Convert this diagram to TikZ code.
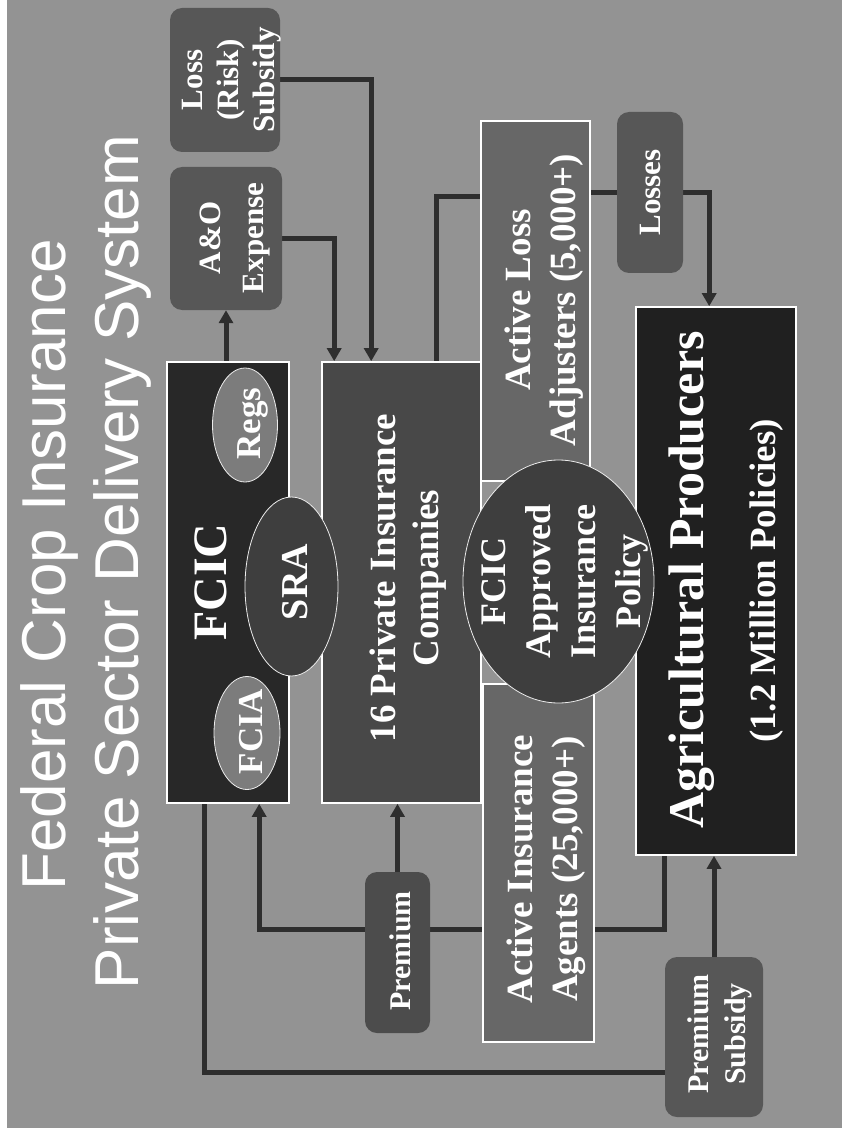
\documentclass[tikz,border=0pt]{standalone}
\usepackage{fontspec}
\setmainfont{Liberation Serif}
\newfontfamily\titlefont{Liberation Sans}
\usepackage{graphicx}
\usetikzlibrary{arrows.meta,calc,shapes.geometric}
\pgfdeclarelayer{bgbg}\pgfdeclarelayer{bgline}
\pgfsetlayers{bgbg,bgline,main}
\newcommand\rtxt[1]{\rotatebox{90}{\begin{tabular}{@{}c@{}}#1\end{tabular}}}
\newcommand\fsz[2]{\fontsize{#1}{#2}\selectfont\bfseries}
\definecolor{bgc}{HTML}{939393}
\definecolor{fcicc}{HTML}{282828}
\definecolor{picc}{HTML}{484848}
\definecolor{agentc}{HTML}{676767}
\definecolor{agc}{HTML}{202020}
\definecolor{regc}{HTML}{7C7C7C}
\definecolor{srac}{HTML}{3E3E3E}
\definecolor{rboxc}{HTML}{575757}
\definecolor{premc}{HTML}{4C4C4C}
\definecolor{connc}{HTML}{2E2E2E}
\begin{document}
\begin{tikzpicture}[x=1pt,y=-1pt,
  box/.style={draw=white, line width=1.6pt, inner sep=0pt, rectangle},
  rbox/.style={rectangle, rounded corners=12pt, fill=rboxc, inner sep=0pt},
  oval/.style={ellipse, draw=white!85!gray, line width=0.8pt, inner sep=0pt},
  lbl/.style={text=white, inner sep=0pt},
  conn/.style={draw=connc, line width=5pt},
  arr/.style={conn, -{Triangle[length=13pt,width=14pt]}}]
\begin{pgfonlayer}{bgbg}
\fill[white] (0,0) rectangle (842,1131);
\fill[bgc] (7,0) rectangle (842,1128);
\end{pgfonlayer}
\useasboundingbox (0,0) rectangle (842,1131);
% boxes
\node[rbox, minimum width=110pt, minimum height=144pt] (loss) at (225,80) {};
\node[rbox, minimum width=112pt, minimum height=143pt] (ao) at (226,238.5) {};
\node[rbox, minimum width=66pt, minimum height=161pt] (losses) at (650,192.5) {};
\node[rbox, fill=premc, minimum width=65pt, minimum height=161pt] (premium) at (397.5,952.5) {};
\node[rbox, minimum width=98pt, minimum height=160pt] (psub) at (714,1037) {};
\node[box, fill=fcicc, minimum width=122pt, minimum height=441pt] (fcic) at (228,582.5) {};
\node[box, fill=picc, minimum width=159pt, minimum height=441pt] (pic) at (401.5,582.5) {};
\node[box, fill=agentc, minimum width=109pt, minimum height=360pt] (adj) at (535.5,301) {};
\node[box, fill=agentc, minimum width=111pt, minimum height=358pt] (agents) at (538.5,863) {};
\node[box, fill=agc, minimum width=160pt, minimum height=548pt] (ag) at (716,581) {};
\node[oval, fill=regc, minimum width=65pt, minimum height=114pt] (regs) at (245,425) {};
\node[oval, fill=regc, minimum width=66pt, minimum height=113pt] (fcia) at (247,733) {};
\node[oval, fill=srac, minimum width=93pt, minimum height=179pt] (sra) at (291.5,586.5) {};
\node[oval, fill=srac, minimum width=191pt, minimum height=243pt] (policy) at (558.5,581.5) {};
% labels
\node[lbl, font={\titlefont\fontsize{62}{74}\selectfont}] (title1) at (50.2,565) {\rtxt{Federal Crop Insurance}};
\node[lbl, font={\titlefont\fontsize{62}{74}\selectfont}] (title2) at (123.2,562) {\rtxt{Private Sector Delivery System}};
\node[lbl, font={\fsz{31}{36}}] (losst) at (230.8,80) {\rtxt{Loss\\(Risk)\\Subsidy}};
\node[lbl, font={\fsz{31}{43}}] (aot) at (232.9,238) {\rtxt{A\&O\\Expense}};
\node[lbl, font={\fsz{31}{36}}] (lossest) at (652.8,192.5) {\rtxt{Losses}};
\node[lbl, font={\fsz{30}{36}}] (premiumt) at (402.8,951) {\rtxt{Premium}};
\node[lbl, font={\fsz{30}{37}}] (psubt) at (719.1,1034) {\rtxt{Premium\\Subsidy}};
\node[lbl, font={\fsz{48}{58}}] (fcict) at (214.4,582) {\rtxt{FCIC}};
\node[lbl, font={\fsz{35}{42}}] (regst) at (251.6,423.5) {\rtxt{Regs}};
\node[lbl, font={\fsz{35}{42}}] (fciat) at (253.6,731.5) {\rtxt{FCIA}};
\node[lbl, font={\fsz{38}{46}}] (srat) at (297.8,582) {\rtxt{SRA}};
\node[lbl, font={\fsz{37}{43}}] (pict) at (408,578) {\rtxt{16 Private Insurance\\Companies}};
\node[lbl, font={\fsz{37}{45}}] (adjt) at (543.5,300) {\rtxt{Active Loss\\Adjusters (5,000+)}};
\node[lbl, font={\fsz{37}{45}}] (agentst) at (546,869) {\rtxt{Active Insurance\\Agents (25,000+)}};
\node[lbl, font={\fsz{50}{60}}] (agt) at (691,580) {\rtxt{Agricultural Producers}};
\node[lbl, font={\fsz{37}{44}}] (agt2) at (766.2,581) {\rtxt{(1.2 Million Policies)}};
\node[lbl, font={\fsz{36}{45}}] (policyt) at (563.5,581.5) {\rtxt{FCIC\\Approved\\Insurance\\Policy}};
% connectors
\begin{pgfonlayer}{bgline}
\draw[arr] (ao.south |- fcic.north) -- (ao.south);
\draw[arr] (ao.east) -| ($(pic.north west)+(13,0)$);
\draw[arr] (loss.east) -| ($(pic.north west)+(50,0)$);
\draw[conn] ($(pic.north west)+(115,0)$) |- ($(adj.north west)+(0,76)$);
\draw[conn] (adj.east |- losses.west) -- (losses.west);
\draw[arr] (losses.east) -| ($(ag.north west)+(74,0)$);
\draw[arr] ($(ag.south west)+(29,0)$) |- ($(premium.north)+(0,58)$) -| ($(fcic.south west)+(93,0)$);
\draw[arr] (premium.north) -- (premium.north |- pic.south);
\draw[conn] ($(fcic.south west)+(38,0)$) |- ($(psub.west)+(0,35)$);
\draw[arr] (psub.north) -- (psub.north |- ag.south);
\end{pgfonlayer}
\end{tikzpicture}
\end{document}
